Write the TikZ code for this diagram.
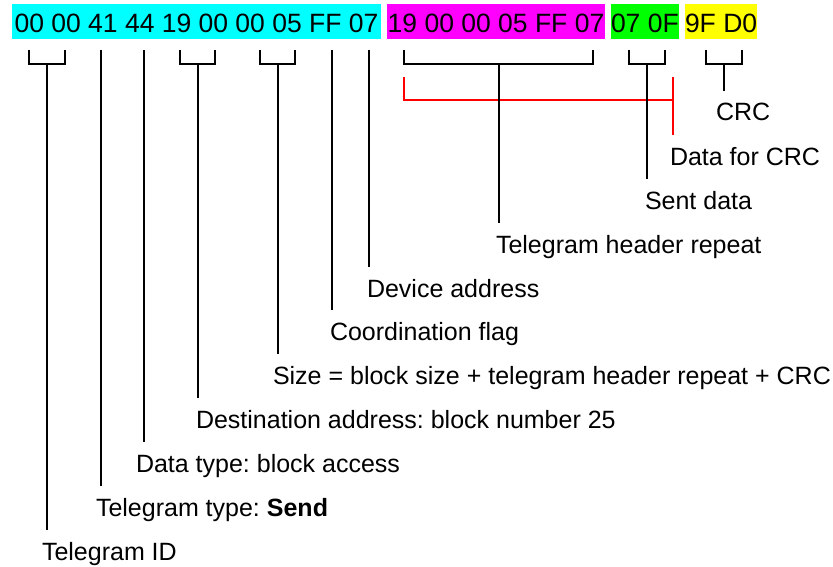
\documentclass[tikz,border=0pt]{standalone}
\usepackage{fontspec}
\setmainfont{Liberation Sans}
\usepackage{tikz}
\usetikzlibrary{calc, positioning}
\frenchspacing

\definecolor{hdrcyan}{RGB}{0,255,255}
\definecolor{hdrmagenta}{RGB}{255,0,255}
\definecolor{datagreen}{RGB}{0,255,0}
\definecolor{crcyellow}{RGB}{255,255,0}

\newcommand{\hexfont}{\fontsize{26.5}{30}\selectfont}
\newcommand{\lblfont}{\fontsize{25}{30}\selectfont}

\begin{document}
\begin{tikzpicture}[x=1pt, y=-1pt, line width=2pt,
  hexbox/.style={anchor=west, inner sep=0pt, minimum height=35pt,
    text height=27pt, text depth=4pt, font=\hexfont},
  lbl/.style={anchor=base west, inner xsep=0pt, inner ysep=11pt,
    text height=18pt, text depth=5pt, font=\lblfont},
  crcline/.style={red, line width=2.5pt}]
\useasboundingbox (0,0) rectangle (833,567);
% telegram bytes
\node[hexbox, fill=hdrcyan, minimum width=369pt] (head) at (11,21.5) {00 00 41 44 19 00 00 05 FF 07};
\node[hexbox, fill=hdrmagenta, minimum width=218pt] (rep) at (386,21.5) {19 00 00 05 FF 07};
\node[hexbox, fill=datagreen, minimum width=67pt] (dat) at (610,21.5) {07 0F};
\node[hexbox, fill=crcyellow, minimum width=69pt] (crc) at (684,21.5) {9F D0};
% labels
\node[lbl] (lcrc)  at (715,121) {CRC};
\node[lbl] (lcalc) at (669,165) {Data for CRC};
\node[lbl] (lsent) at (644,209) {Sent data};
\node[lbl] (lrep)  at (495,253) {Telegram header repeat};
\node[lbl] (ldev)  at (366,297) {Device address};
\node[lbl] (lflag) at (329,340) {Coordination flag};
\node[lbl] (lsize) at (272,384) {Size = block size + telegram header repeat + CRC};
\node[lbl] (ldst)  at (195,428) {Destination address: block number 25};
\node[lbl] (ldtyp) at (135,472) {Data type: block access};
\node[lbl] (lttyp) at (95,516)  {Telegram type: \textbf{Send}};
\node[lbl] (lid)   at (41,560)  {Telegram ID};
% brackets under byte groups
\foreach \name/\xa/\xb in {id/29/65, dst/180/215, size/260/295, rep/404/593, sent/629/665, crc/706/742} {
  \draw (\xa,50) -- (\xa,64) -- (\xb,64) -- (\xb,50);
  \coordinate (b\name) at ({(\xa+\xb)/2},64);
}
% single bytes
\coordinate (bttyp) at (101,50);
\coordinate (bdtyp) at (144,50);
\coordinate (bflag) at (332,50);
\coordinate (bdev)  at (369,50);
% red bracket: bytes covered by the CRC
\coordinate (cl) at (404,77);
\coordinate (cr) at (673,77);
\draw[crcline] (cl) |- ($(cr)+(0,23)$);
\draw[crcline] (cr) -- (cr |- lcalc.north);
% leader lines
\draw (bid) -- (bid |- lid.north);
\draw (bttyp) -- (bttyp |- lttyp.north);
\draw (bdtyp) -- (bdtyp |- ldtyp.north);
\draw (bdst) -- (bdst |- ldst.north);
\draw (bsize) -- (bsize |- lsize.north);
\draw (bflag) -- (bflag |- lflag.north);
\draw (bdev) -- (bdev |- ldev.north);
\draw (brep) -- (brep |- lrep.north);
\draw (bsent) -- (bsent |- lsent.north);
\draw (bcrc) -- (bcrc |- lcrc.north);
\end{tikzpicture}
\end{document}
